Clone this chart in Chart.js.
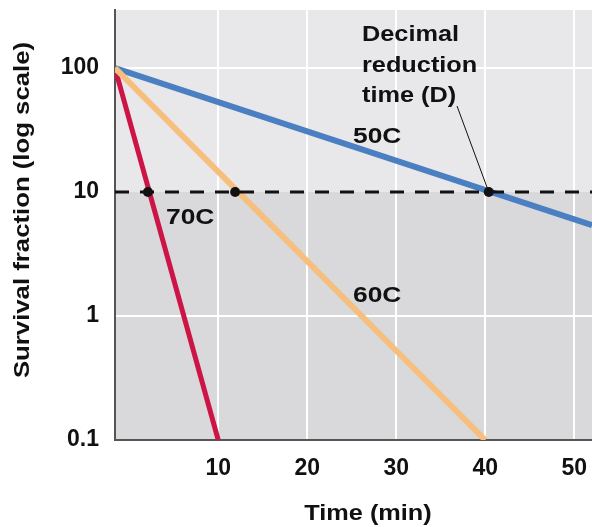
<!DOCTYPE html>
<html>
<head>
<meta charset="utf-8">
<script src="https://cdn.jsdelivr.net/npm/chart.js@4.4.1/dist/chart.umd.min.js"></script>
<style>
  html, body { margin: 0; padding: 0; background: #fff; }
  #wrap { width: 592px; height: 527px; position: relative; }
</style>
</head>
<body>
<div id="wrap"><canvas id="c"></canvas></div>
<script>
'use strict';

// axis range (left edge sits a bit before t=0 tick spacing)
const xMin = -1.6;
const xMax = 52;
const yMin = 0.1;
const yMax = 294;

const xTicks = [10, 20, 30, 40, 50];
const yTicks = [0.1, 1, 10, 100];

// survival curves (time, fraction)
const time50 = [xMin, 52];
const surv50 = [100, 5.4];
const time60 = [xMin, 40];
const surv60 = [100, 0.1];
const time70 = [xMin, 10];
const surv70 = [100, 0.1];

// points where each curve crosses 10 (decimal reduction)
const dTimes = [2.1, 11.9, 40.4];
const dLevel = 10;

const FAM = '"Liberation Sans", Arial, sans-serif';

const toPts = (xs, ys) => xs.map((x, i) => ({ x: x, y: ys[i] }));

// reference type is a little wider than Arial, so stretch it
const wideText = (ctx, txt, x, y, size, stretch) => {
  ctx.save();
  ctx.font = 'bold ' + size + 'px ' + FAM;
  ctx.translate(x, y);
  ctx.scale(stretch, 1);
  ctx.fillText(txt, 0, 0);
  ctx.restore();
};

// two-tone background split at the 10 line
const bgPlugin = {
  id: 'bg',
  beforeDraw(chart) {
    const { ctx, chartArea: a, scales } = chart;
    const y10 = scales.y.getPixelForValue(dLevel);
    ctx.save();
    ctx.fillStyle = '#e8e7e9';
    ctx.fillRect(a.left, a.top, a.right - a.left, y10 - a.top);
    ctx.fillStyle = '#d9d8da';
    ctx.fillRect(a.left, y10, a.right - a.left, a.bottom - y10);
    ctx.restore();
  }
};

// dashed line, labels, titles
const notes = {
  id: 'notes',
  afterDatasetsDraw(chart) {
    const { ctx, chartArea: a, scales } = chart;
    const x = scales.x, y = scales.y;
    const y10 = y.getPixelForValue(dLevel);
    ctx.save();
    ctx.strokeStyle = '#111';
    ctx.lineWidth = 3;
    ctx.setLineDash([14, 11]);
    ctx.beginPath();
    ctx.moveTo(a.left, y10);
    ctx.lineTo(a.right, y10);
    ctx.stroke();
    ctx.setLineDash([]);

    // leader line to D point on 50C
    ctx.lineWidth = 1;
    ctx.beginPath();
    ctx.moveTo(457, 106);
    ctx.lineTo(x.getPixelForValue(dTimes[2]), y10);
    ctx.stroke();

    ctx.fillStyle = '#111';
    dTimes.forEach(t => {
      ctx.beginPath();
      ctx.arc(x.getPixelForValue(t), y10, 5, 0, Math.PI * 2);
      ctx.fill();
    });

    ctx.textAlign = 'left';
    ctx.textBaseline = 'alphabetic';
    wideText(ctx, 'Decimal', 362, 41, 22, 1.15);
    wideText(ctx, 'reduction', 362, 72, 22, 1.15);
    wideText(ctx, 'time (D)', 362, 102, 22, 1.15);
    wideText(ctx, '50C', 353, 143, 22, 1.2);
    wideText(ctx, '70C', 166, 224, 22, 1.2);
    wideText(ctx, '60C', 353, 302, 22, 1.2);

    ctx.textAlign = 'center';
    ctx.textBaseline = 'middle';
    wideText(ctx, 'Time (min)', 368, 514, 22, 1.15);
    ctx.translate(23, 210);
    ctx.rotate(-Math.PI / 2);
    wideText(ctx, 'Survival fraction (log scale)', 0, 0, 22, 1.17);
    ctx.restore();
  }
};

const lineSet = (pts, color, w) => ({
  data: pts,
  borderColor: color,
  borderWidth: w,
  pointRadius: 0,
  fill: false,
  tension: 0,
  borderCapStyle: 'butt'
});

const tickFont = { size: 23, weight: 'bold', family: FAM };

new Chart(document.getElementById('c'), {
  type: 'line',
  data: {
    datasets: [
      lineSet(toPts(time60, surv60), '#f6bf7e', 6),
      lineSet(toPts(time50, surv50), '#4a7fc1', 6),
      lineSet(toPts(time70, surv70), '#cc1446', 5)
    ]
  },
  options: {
    responsive: true,
    maintainAspectRatio: false,
    animation: false,
    layout: { padding: { top: 10, right: 0, left: 0, bottom: 0 } },
    plugins: { legend: { display: false }, tooltip: { enabled: false } },
    scales: {
      x: {
        type: 'linear',
        min: xMin,
        max: xMax,
        afterBuildTicks: s => { s.ticks = xTicks.map(v => ({ value: v })); },
        afterFit: s => { s.height = 87; s.paddingLeft = 0; s.paddingRight = 0; },
        grid: { color: '#ffffff', lineWidth: 2, drawTicks: false },
        border: { color: '#555', width: 2 },
        ticks: { color: '#111', padding: 15, font: tickFont }
      },
      y: {
        type: 'logarithmic',
        min: yMin,
        max: yMax,
        afterBuildTicks: s => { s.ticks = yTicks.map(v => ({ value: v })); },
        afterFit: s => { s.width = 115; s.paddingTop = 0; s.paddingBottom = 0; },
        grid: {
          color: ctx => (ctx.tick && ctx.tick.value === dLevel) ? 'rgba(0,0,0,0)' : '#ffffff',
          lineWidth: 2,
          drawTicks: false
        },
        border: { color: '#555', width: 2 },
        ticks: {
          color: '#111',
          padding: 16,
          font: tickFont,
          callback: v => String(v)
        }
      }
    }
  },
  plugins: [bgPlugin, notes]
});
</script>
</body>
</html>
